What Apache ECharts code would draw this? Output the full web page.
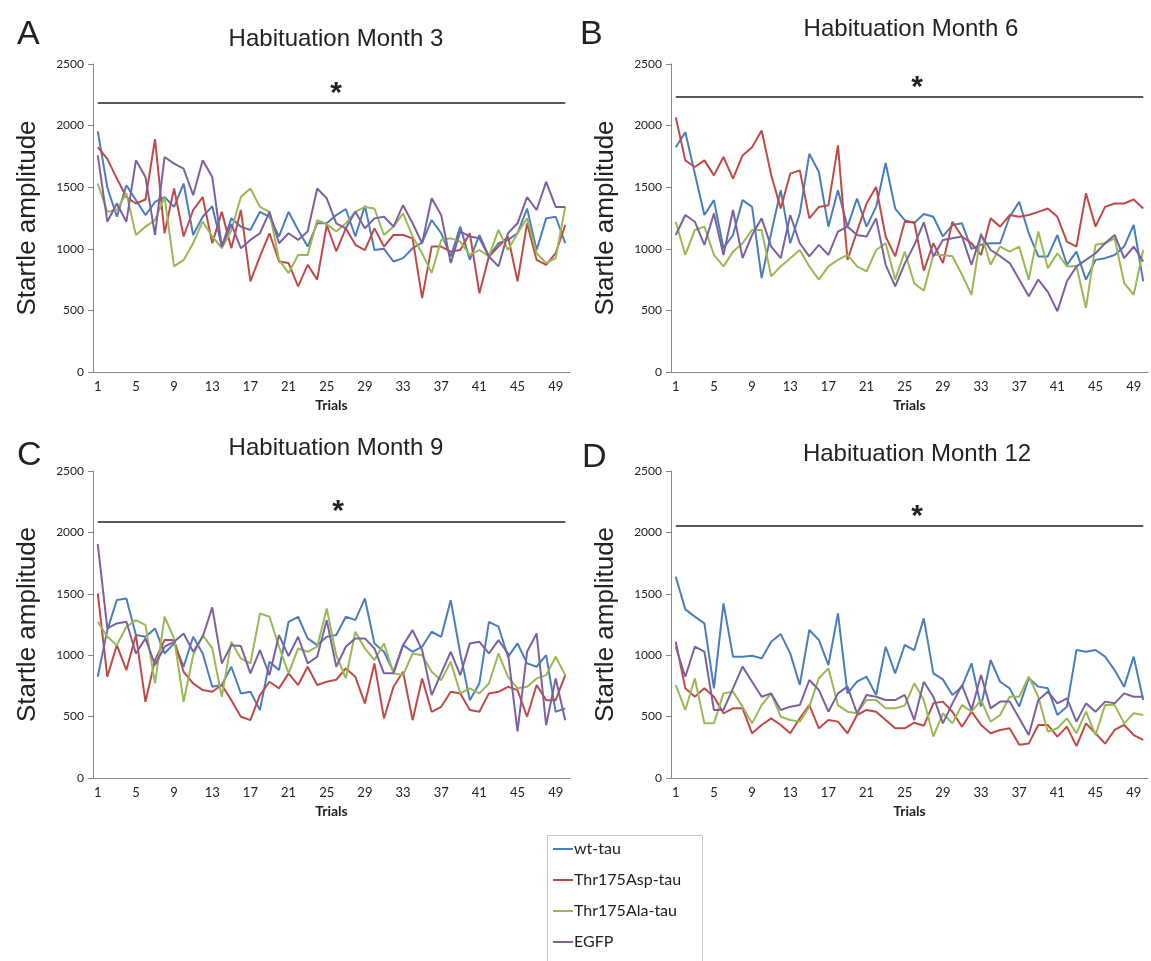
<!DOCTYPE html>
<html>
<head>
<meta charset="utf-8">
<title>Habituation</title>
<script src="https://cdn.jsdelivr.net/npm/echarts@6/dist/echarts.min.js"></script>
<style>
  html, body { margin: 0; padding: 0; background: #fff; }
  #chart { width: 1151px; height: 961px; }
</style>
</head>
<body>
<div id="chart"></div>
<script>
// trials 1..50 on every x axis
const trials = [];
for (let i = 1; i <= 50; i++) trials.push(String(i));

const groupNames = ['wt-tau', 'Thr175Asp-tau', 'Thr175Ala-tau', 'EGFP'];
const panelTitles = ['Habituation Month 3', 'Habituation Month 6', 'Habituation Month 9', 'Habituation Month 12'];
const panelLetters = ['A', 'B', 'C', 'D'];

// month 3
const m3Wt = [1954, 1500, 1260, 1516, 1395, 1274, 1380, 1420, 1340, 1530, 1112, 1260, 1346, 1018, 1247, 1180, 1153, 1300, 1260, 1100, 1300, 1153, 1018, 1207, 1207, 1274,
  1323, 1100, 1350, 990, 1000, 897, 924, 1005, 1050, 1234, 1126, 938, 1180, 910, 1112, 938, 1045, 1072, 1126, 1327, 990, 1247, 1260, 1045];
const m3Asp = [1825, 1730, 1570, 1420, 1368, 1400, 1890, 1126, 1490, 1100, 1315, 1420, 1045, 1300, 1005, 1315, 736, 938, 1126, 897, 884, 695, 870, 750, 1193, 980,
  1166, 1032, 990, 1166, 1018, 1112, 1112, 1085, 600, 1018, 1018, 977, 990, 1126, 640, 938, 1018, 1100, 736, 1207, 910, 870, 964, 1193];
const m3Ala = [1530, 1300, 1315, 1450, 1112, 1180, 1233, 1420, 857, 910, 1045, 1220, 1100, 1005, 1150, 1420, 1490, 1340, 1300, 910, 803, 950, 950, 1233, 1200, 1140,
  1207, 1300, 1340, 1327, 1112, 1180, 1287, 1100, 964, 803, 1072, 1085, 1058, 950, 990, 938, 1153, 990, 1126, 1247, 964, 884, 924, 1340];
const m3Egfp = [1758, 1220, 1368, 1220, 1718, 1583, 1112, 1745, 1691, 1650, 1435, 1718, 1583, 1018, 1200, 1005, 1072, 1126, 1300, 1045, 1126, 1072, 1140, 1490, 1410, 1207,
  1166, 1300, 1166, 1247, 1260, 1180, 1354, 1207, 1045, 1410, 1274, 884, 1140, 1100, 1085, 938, 857, 1126, 1207, 1420, 1315, 1543, 1340, 1340];

// month 6
const m6Wt = [1825, 1946, 1610, 1274, 1395, 1005, 1112, 1395, 1340, 763, 1126, 1476, 1045, 1287, 1771, 1623, 1180, 1476, 1180, 1408, 1180, 1340, 1696, 1327, 1233, 1210, 1282,
  1260, 1100, 1193, 1207, 1000, 1032, 1045, 1045, 1260, 1381, 1126, 938, 938, 1112, 870, 977, 750, 910, 924, 950, 1018, 1193, 736];
const m6Asp = [2067, 1718, 1664, 1718, 1596, 1745, 1570, 1758, 1825, 1960, 1600, 1327, 1610, 1637, 1247, 1340, 1354, 1840, 910, 1140, 1368, 1502, 1100, 938, 1220, 1215, 823,
  1045, 884, 1220, 1100, 1045, 950, 1247, 1180, 1274, 1260, 1274, 1300, 1327, 1260, 1058, 1018, 1450, 1180, 1340, 1368, 1368, 1400, 1327];
const m6Ala = [1220, 950, 1153, 1180, 950, 857, 977, 1045, 1153, 1153, 776, 857, 924, 990, 857, 750, 857, 910, 950, 857, 816, 990, 1045, 750, 977, 720, 660,
  950, 950, 940, 790, 627, 1126, 870, 1018, 977, 1018, 750, 1140, 843, 964, 857, 860, 520, 1032, 1045, 1085, 722, 627, 990];
const m6Egfp = [1112, 1274, 1220, 1032, 1287, 950, 1315, 924, 1112, 1247, 1018, 924, 1274, 1045, 938, 1032, 950, 1140, 1180, 1112, 1100, 1247, 870, 695, 880, 1030, 1215,
  938, 1072, 1085, 1100, 870, 1112, 990, 940, 884, 750, 615, 750, 650, 493, 736, 857, 910, 964, 1045, 1112, 924, 1018, 897];

// month 9
const m9Wt = [824, 1204, 1449, 1462, 1164, 1150, 1218, 1014, 1096, 906, 1150, 1014, 743, 757, 906, 689, 702, 553, 947, 879, 1272, 1313, 1137, 1082, 1150, 1164,
  1313, 1286, 1462, 1096, 1028, 865, 1082, 1028, 1069, 1191, 1150, 1449, 1014, 634, 770, 1272, 1232, 987, 1096, 933, 906, 1001, 539, 567];
const m9Asp = [1503, 824, 1082, 879, 1164, 621, 960, 1123, 1123, 865, 770, 716, 702, 757, 634, 499, 471, 675, 784, 730, 852, 757, 906, 757, 784, 800,
  892, 824, 607, 933, 485, 743, 865, 471, 811, 539, 580, 702, 689, 553, 539, 689, 702, 743, 716, 499, 757, 634, 634, 838];
const m9Ala = [1272, 1150, 1082, 1232, 1286, 1245, 770, 1313, 1137, 621, 1000, 1164, 1055, 662, 1109, 974, 933, 1340, 1313, 1069, 852, 1055, 1028, 1069, 1381, 1000,
  811, 1191, 1055, 960, 1096, 852, 838, 1014, 1000, 865, 797, 947, 689, 730, 689, 770, 1014, 824, 730, 743, 811, 838, 987, 838];
const m9Egfp = [1905, 1218, 1259, 1272, 1014, 1137, 920, 1069, 1109, 1177, 1028, 1150, 1389, 933, 1082, 1074, 852, 1042, 838, 1164, 993, 1150, 933, 987, 1286, 906,
  1069, 1137, 1137, 1055, 852, 852, 1082, 1204, 1042, 675, 852, 1028, 838, 1096, 1109, 1014, 1123, 1014, 380, 1028, 1177, 430, 811, 471];

// month 12
const m12Wt = [1639, 1373, 1314, 1259, 730, 1422, 988, 988, 996, 974, 1110, 1172, 1015, 757, 1205, 1124, 920, 1341, 689, 784, 825, 676, 1069, 852, 1083, 1042, 1300,
  852, 803, 676, 744, 934, 581, 961, 784, 730, 581, 812, 744, 730, 513, 581, 1042, 1029, 1042, 988, 879, 744, 988, 635];
const m12Asp = [1110, 730, 662, 730, 662, 527, 567, 567, 364, 432, 486, 432, 364, 486, 594, 405, 472, 459, 364, 513, 554, 540, 472, 405, 405, 450, 425,
  608, 622, 540, 418, 540, 432, 364, 391, 405, 270, 280, 432, 432, 337, 418, 260, 445, 364, 280, 391, 432, 350, 310];
const m12Ala = [757, 554, 812, 445, 445, 689, 703, 581, 445, 594, 689, 499, 472, 459, 581, 812, 893, 594, 540, 527, 635, 635, 567, 567, 590, 771, 635,
  337, 527, 445, 594, 540, 635, 459, 513, 662, 662, 825, 662, 377, 405, 486, 364, 540, 350, 594, 594, 445, 527, 513];
const m12Egfp = [1069, 825, 1069, 1029, 554, 554, 730, 907, 784, 662, 689, 554, 581, 594, 798, 717, 540, 689, 744, 527, 676, 662, 635, 635, 676, 472, 784,
  662, 445, 608, 757, 554, 839, 567, 622, 622, 486, 350, 635, 703, 608, 649, 459, 608, 540, 622, 608, 689, 662, 662];

const panels = [
  [m3Wt, m3Asp, m3Ala, m3Egfp],
  [m6Wt, m6Asp, m6Ala, m6Egfp],
  [m9Wt, m9Asp, m9Ala, m9Egfp],
  [m12Wt, m12Asp, m12Ala, m12Egfp]
];

// ---- layout ----
const colors = ['#4A7EBB', '#BE4B48', '#98B954', '#7D60A0'];
const grids = [
  { left: 93, top: 64, width: 477, height: 308 },
  { left: 671, top: 64, width: 477, height: 308 },
  { left: 93, top: 471, width: 477, height: 307 },
  { left: 671, top: 471, width: 477, height: 307 }
];
const sigBar = [2183, 2232, 2085, 2052]; // height of the significance bar
const titlePos = [[331, 22], [906, 12], [331, 431], [912, 437]];
const starPos = [[331, 74], [912, 68], [333, 492], [912, 497]];
const letterPos = [[12, 13], [575, 13], [12, 434], [577, 436]];

const chart = echarts.init(document.getElementById('chart'));

const titles = [];
panels.forEach((p, i) => {
  titles.push({
    text: panelTitles[i], left: titlePos[i][0], top: titlePos[i][1], textAlign: 'center',
    textStyle: { fontFamily: 'Liberation Sans', fontSize: 24, fontWeight: 'normal', color: '#222' }
  });
  titles.push({
    text: '*', left: starPos[i][0], top: starPos[i][1], textAlign: 'center',
    textStyle: { fontFamily: 'Liberation Sans', fontSize: 30, fontWeight: 'bold', color: '#222' }
  });
  titles.push({
    text: panelLetters[i], left: letterPos[i][0], top: letterPos[i][1],
    textStyle: { fontFamily: 'Liberation Sans', fontSize: 34, fontWeight: 'normal', color: '#222' }
  });
});

const xAxes = grids.map((g, i) => ({
  type: 'category',
  gridIndex: i,
  data: trials,
  boundaryGap: true,
  name: 'Trials',
  nameLocation: 'middle',
  nameGap: 26,
  nameTextStyle: { fontFamily: 'Lato', fontSize: 14, fontWeight: 'bold', color: '#222' },
  axisLine: { lineStyle: { color: '#868686', width: 1 } },
  axisTick: { interval: 0, length: 5, lineStyle: { color: '#868686' } },
  axisLabel: { interval: 3, fontFamily: 'Lato', fontSize: 13, color: '#222', margin: 8 },
  splitLine: { show: false }
}));

const yAxes = grids.map((g, i) => ({
  type: 'value',
  gridIndex: i,
  min: 0,
  max: 2500,
  interval: 500,
  name: 'Startle amplitude',
  nameLocation: 'middle',
  nameGap: 52,
  nameTextStyle: { fontFamily: 'Liberation Sans', fontSize: 26, color: '#222' },
  axisLine: { show: true, lineStyle: { color: '#868686', width: 1 } },
  axisTick: { show: true, length: 5, lineStyle: { color: '#868686' } },
  axisLabel: { fontFamily: 'Lato', fontSize: 12, color: '#222', margin: 9, formatter: v => String(v) },
  splitLine: { show: false }
}));

const series = [];
panels.forEach((p, i) => {
  p.forEach((vals, k) => {
    const s = {
      name: groupNames[k],
      type: 'line',
      xAxisIndex: i,
      yAxisIndex: i,
      data: vals,
      showSymbol: false,
      symbol: 'none',
      lineStyle: { color: colors[k], width: 2 },
      itemStyle: { color: colors[k] },
      animation: false
    };
    if (k === 0) {
      s.markLine = {
        silent: true,
        symbol: ['none', 'none'],
        label: { show: false },
        lineStyle: { color: '#222', width: 1.6, type: 'solid' },
        data: [[{ coord: ['1', sigBar[i]] }, { coord: ['50', sigBar[i]] }]],
        animation: false
      };
    }
    series.push(s);
  });
});

chart.setOption({
  backgroundColor: '#fff',
  animation: false,
  title: titles,
  grid: grids,
  xAxis: xAxes,
  yAxis: yAxes,
  // legend frame, cut by the bottom edge like the reference
  graphic: [{
    type: 'rect',
    left: 547, top: 835,
    shape: { width: 155, height: 140 },
    style: { fill: '#fff', stroke: '#c8c8c8', lineWidth: 1 },
    z: 0
  }],
  legend: {
    data: groupNames,
    orient: 'vertical',
    left: 553,
    top: 841,
    height: 130,
    icon: 'rect',
    itemWidth: 20,
    itemHeight: 2,
    itemGap: 15,
    padding: 0,
    z: 5,
    textStyle: { fontFamily: 'Lato', fontSize: 16, color: '#222', padding: [0, 0, 0, -4], lineHeight: 16 }
  },
  series: series
});
</script>
</body>
</html>
